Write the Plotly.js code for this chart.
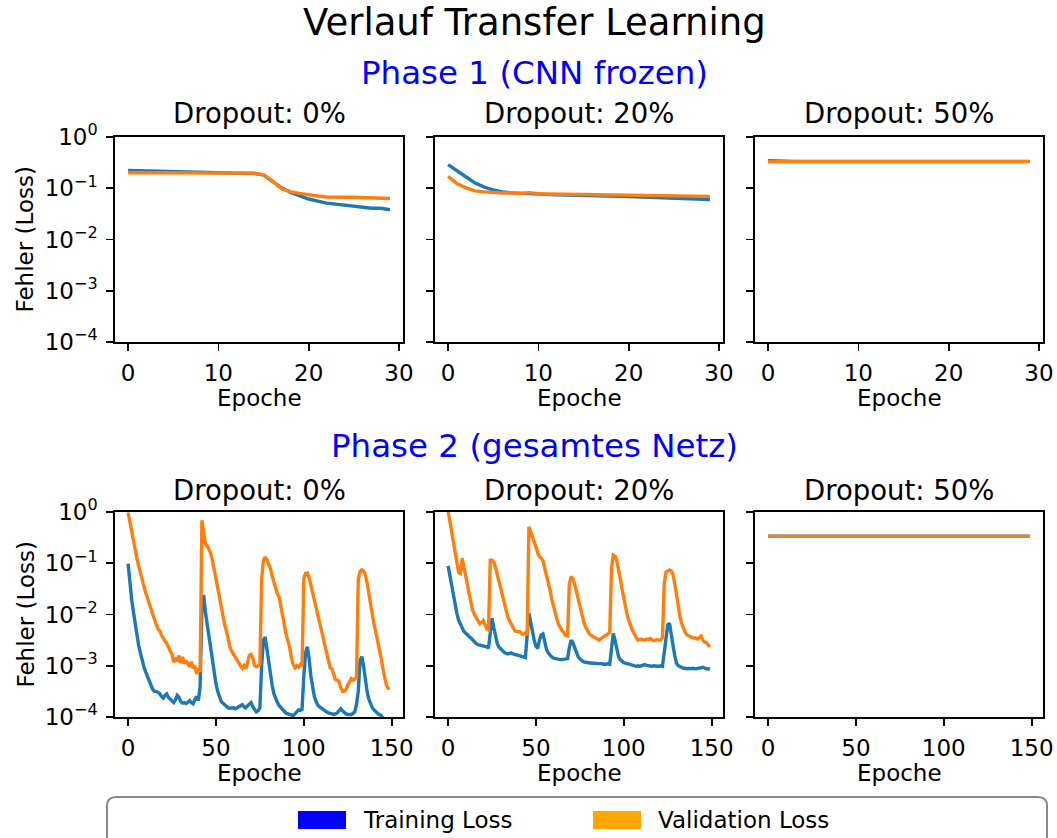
<!DOCTYPE html>
<html>
<head>
<meta charset="utf-8">
<script src="https://cdn.plot.ly/plotly-3.0.1.min.js"></script>
<style>html,body{margin:0;padding:0;background:#fff;}#chart{width:1057px;height:838px;}</style>
</head>
<body>
<div id="chart"></div>
<script>
// ---------------- DATA ----------------
const mainTitle = "Verlauf Transfer Learning";
const phaseTitles = ["Phase 1 (CNN frozen)", "Phase 2 (gesamtes Netz)"];
const dropoutLabels = ["Dropout: 0%", "Dropout: 20%", "Dropout: 50%"];
const xLabel = "Epoche";
const yLabel = "Fehler (Loss)";
const seriesNames = ["Training Loss", "Validation Loss"];
const xTicksP1 = [0, 10, 20, 30];
const xTicksP2 = [0, 50, 100, 150];
const yTickVals = [1e-4, 1e-3, 1e-2, 1e-1, 1];
const yTickText = ["10<sup>\u22124</sup>", "10<sup>\u22123</sup>", "10<sup>\u22122</sup>", "10<sup>\u22121</sup>", "10<sup>0</sup>"];

// Phase 1 (30 epochs)
const p1_d0_train = [0.222,0.219,0.216,0.214,0.213,0.211,0.209,0.207,0.204,0.202,0.200,0.199,0.197,0.195,0.194,
  0.182,0.138,0.102,0.0832,0.0708,0.0617,0.0562,0.0513,0.0490,0.0468,0.0447,0.0427,0.0407,0.0407,0.0380];
const p1_d0_val = [0.200,0.200,0.200,0.199,0.199,0.198,0.198,0.198,0.197,0.197,0.197,0.198,0.198,0.197,0.197,
  0.182,0.138,0.0977,0.0851,0.0794,0.0741,0.0708,0.0676,0.0661,0.0668,0.0668,0.0661,0.0646,0.0631,0.0631];
const p1_d20_train = [0.288,0.214,0.166,0.126,0.105,0.0933,0.0851,0.0813,0.0794,0.0776,0.0759,0.0750,0.0741,0.0735,0.0724,
  0.0718,0.0710,0.0705,0.0700,0.0695,0.0690,0.0680,0.0668,0.0660,0.0645,0.0640,0.0630,0.0625,0.0615,0.0603];
const p1_d20_val = [0.170,0.122,0.102,0.0891,0.0851,0.0822,0.0810,0.0810,0.0790,0.0822,0.0780,0.0770,0.0765,0.0760,0.0755,
  0.0750,0.0750,0.0745,0.0740,0.0755,0.0745,0.0740,0.0730,0.0725,0.0720,0.0720,0.0715,0.0710,0.0700,0.0695];
const p1_d50_train = [0.345,0.338,0.336,0.335,0.335,0.335,0.334,0.334,0.334,0.334,0.334,0.334,0.334,0.334,0.334,
  0.334,0.334,0.334,0.334,0.334,0.334,0.334,0.334,0.334,0.334,0.334,0.334,0.334,0.334,0.334];
const p1_d50_val = [0.331,0.331,0.331,0.331,0.331,0.331,0.331,0.331,0.331,0.331,0.331,0.331,0.331,0.331,0.331,
  0.331,0.331,0.331,0.331,0.331,0.331,0.331,0.331,0.331,0.331,0.331,0.331,0.331,0.331,0.331];

// Phase 2 (150 epochs)
const p2_d0_train = [
  0.098,0.0380,0.0200,0.0115,6.61e-3,3.98e-3,2.51e-3,1.78e-3,1.26e-3,9.55e-4,
  7.59e-4,6.31e-4,5.01e-4,3.98e-4,3.47e-4,3.16e-4,3.16e-4,3.02e-4,2.88e-4,2.51e-4,
  2.34e-4,2.63e-4,2.82e-4,2.40e-4,2.19e-4,2.09e-4,1.91e-4,2.19e-4,2.63e-4,2.40e-4,
  2.0e-4,1.86e-4,1.91e-4,1.82e-4,2.0e-4,2.09e-4,1.91e-4,1.82e-4,2.19e-4,2.51e-4,
  2.09e-4,3.98e-4,0.0126,0.0240,0.0112,6.31e-3,3.55e-3,2.0e-3,1.12e-3,7.08e-4,
  4.47e-4,3.16e-4,2.40e-4,2.0e-4,1.86e-4,1.74e-4,1.58e-4,1.51e-4,1.48e-4,1.48e-4,
  1.51e-4,1.45e-4,1.51e-4,1.58e-4,1.66e-4,1.74e-4,1.58e-4,1.51e-4,1.66e-4,1.82e-4,
  1.91e-4,1.58e-4,1.45e-4,1.26e-4,1.32e-4,1.51e-4,1.0e-3,3.16e-3,3.63e-3,2.0e-3,
  1.05e-3,6.31e-4,4.17e-4,2.82e-4,2.24e-4,1.91e-4,1.66e-4,1.51e-4,1.38e-4,1.26e-4,
  1.17e-4,1.15e-4,1.12e-4,1.10e-4,1.07e-4,1.15e-4,1.26e-4,1.38e-4,1.35e-4,1.41e-4,
  6.31e-4,1.78e-3,2.34e-3,1.41e-3,6.31e-4,3.80e-4,2.51e-4,2.0e-4,1.70e-4,1.58e-4,
  1.48e-4,1.38e-4,1.32e-4,1.26e-4,1.20e-4,1.17e-4,1.15e-4,1.12e-4,1.15e-4,1.20e-4,
  1.32e-4,1.45e-4,1.32e-4,1.20e-4,1.15e-4,1.12e-4,1.12e-4,1.12e-4,1.17e-4,1.26e-4,
  1.78e-4,3.16e-4,1.26e-3,1.51e-3,1.0e-3,4.79e-4,3.16e-4,2.24e-4,1.74e-4,1.51e-4,
  1.38e-4,1.26e-4,1.17e-4,1.12e-4,1.07e-4,9.55e-5,8.91e-5,8.32e-5,7.94e-5,7.59e-5];
const p2_d0_val = [
  0.977,0.631,0.417,0.288,0.191,0.126,0.0891,0.0631,0.0468,0.0355,
  0.0269,0.0209,0.0158,0.0126,0.0100,7.94e-3,6.31e-3,5.25e-3,4.79e-3,3.98e-3,
  3.31e-3,3.02e-3,2.75e-3,2.24e-3,1.91e-3,1.66e-3,1.17e-3,1.45e-3,1.20e-3,1.58e-3,
  1.12e-3,1.48e-3,1.10e-3,1.26e-3,1.07e-3,9.55e-4,1.20e-3,8.91e-4,1.0e-3,6.92e-4,
  8.91e-4,7.59e-4,0.692,0.355,0.240,0.219,0.191,0.158,0.112,0.0794,
  0.0501,0.0331,0.0209,0.0135,9.55e-3,6.31e-3,4.68e-3,3.16e-3,2.29e-3,1.91e-3,
  1.66e-3,1.48e-3,1.26e-3,1.10e-3,1.0e-3,8.91e-4,1.0e-3,8.71e-4,1.12e-3,1.58e-3,
  1.66e-3,1.41e-3,1.0e-3,9.55e-4,1.0e-3,1.05e-3,0.0501,0.112,0.132,0.117,
  0.0955,0.0794,0.0562,0.0417,0.0302,0.0251,0.0219,0.0141,8.91e-3,5.62e-3,
  3.98e-3,3.02e-3,2.24e-3,1.41e-3,1.05e-3,9.12e-4,1.0e-3,9.33e-4,1.05e-3,1.0e-3,
  0.0501,0.0631,0.0646,0.0525,0.0380,0.0282,0.0200,0.0148,0.0105,7.24e-3,
  5.25e-3,3.55e-3,2.51e-3,1.78e-3,1.20e-3,9.12e-4,8.71e-4,6.61e-4,5.37e-4,5.25e-4,
  5.01e-4,3.80e-4,3.16e-4,3.16e-4,3.39e-4,4.17e-4,5.01e-4,5.62e-4,5.25e-4,5.50e-4,
  6.03e-4,0.0479,0.0692,0.0741,0.0708,0.0603,0.0417,0.0251,0.0158,0.0105,
  6.31e-3,4.47e-3,3.16e-3,2.0e-3,1.41e-3,8.91e-4,5.62e-4,4.17e-4,3.63e-4,3.72e-4];
const p2_d20_train = [
  0.0891,0.0562,0.0380,0.0240,0.0155,0.0105,7.76e-3,6.31e-3,5.50e-3,4.68e-3,
  4.27e-3,3.98e-3,3.72e-3,3.47e-3,3.16e-3,2.82e-3,2.69e-3,2.57e-3,2.51e-3,2.45e-3,
  2.45e-3,2.40e-3,2.34e-3,2.19e-3,5.01e-3,8.51e-3,5.62e-3,3.55e-3,2.69e-3,2.29e-3,
  2.09e-3,2.0e-3,1.82e-3,1.74e-3,1.70e-3,1.74e-3,1.78e-3,1.70e-3,1.66e-3,1.66e-3,
  1.62e-3,1.58e-3,1.51e-3,1.48e-3,1.45e-3,3.98e-3,0.0105,7.08e-3,4.47e-3,3.16e-3,
  2.40e-3,2.19e-3,3.16e-3,3.98e-3,4.17e-3,2.82e-3,2.09e-3,1.78e-3,1.58e-3,1.48e-3,
  1.41e-3,1.38e-3,1.35e-3,1.35e-3,1.32e-3,1.32e-3,1.35e-3,1.35e-3,1.38e-3,2.24e-3,
  3.16e-3,2.82e-3,2.24e-3,1.78e-3,1.51e-3,1.35e-3,1.26e-3,1.20e-3,1.17e-3,1.15e-3,
  1.15e-3,1.12e-3,1.12e-3,1.12e-3,1.10e-3,1.12e-3,1.10e-3,1.10e-3,1.07e-3,1.07e-3,
  1.07e-3,1.10e-3,1.07e-3,2.51e-3,4.27e-3,3.16e-3,2.0e-3,1.51e-3,1.32e-3,1.20e-3,
  1.15e-3,1.12e-3,1.10e-3,1.07e-3,1.05e-3,1.02e-3,1.0e-3,9.77e-4,1.0e-3,9.77e-4,
  1.0e-3,1.02e-3,1.05e-3,1.02e-3,1.0e-3,9.77e-4,9.77e-4,1.0e-3,9.77e-4,9.77e-4,
  9.77e-4,1.0e-3,9.77e-4,1.91e-3,3.55e-3,6.31e-3,6.76e-3,4.47e-3,2.51e-3,1.58e-3,
  1.12e-3,1.0e-3,9.55e-4,9.12e-4,8.91e-4,8.91e-4,8.71e-4,8.91e-4,8.71e-4,8.91e-4,
  8.71e-4,8.71e-4,8.91e-4,8.91e-4,9.12e-4,9.33e-4,8.91e-4,8.71e-4,8.71e-4,8.51e-4];
const p2_d20_val = [
  1.05,0.631,0.417,0.263,0.170,0.105,0.0661,0.0631,0.126,0.0891,
  0.0562,0.0380,0.0251,0.0166,0.0120,0.0100,8.32e-3,7.59e-3,6.61e-3,6.92e-3,
  7.59e-3,6.03e-3,5.25e-3,5.01e-3,0.115,0.115,0.105,0.0832,0.0603,0.0447,
  0.0316,0.0224,0.0158,0.0112,8.91e-3,7.59e-3,6.31e-3,5.62e-3,4.79e-3,4.68e-3,
  4.68e-3,4.57e-3,4.17e-3,4.17e-3,4.37e-3,3.98e-3,0.513,0.417,0.331,0.263,
  0.209,0.158,0.135,0.126,0.112,0.0794,0.0603,0.0417,0.0302,0.0200,
  0.0141,0.0100,7.94e-3,6.31e-3,5.37e-3,4.79e-3,4.37e-3,3.89e-3,3.80e-3,0.0398,
  0.0550,0.0501,0.0398,0.0282,0.0200,0.0141,0.0100,7.59e-3,6.03e-3,5.01e-3,
  4.37e-3,3.98e-3,3.80e-3,3.63e-3,3.47e-3,3.31e-3,3.16e-3,3.39e-3,3.55e-3,3.80e-3,
  3.98e-3,4.17e-3,4.47e-3,0.0794,0.145,0.138,0.112,0.0794,0.0501,0.0316,
  0.0200,0.0132,9.55e-3,7.41e-3,5.75e-3,4.79e-3,4.17e-3,3.55e-3,3.16e-3,3.24e-3,
  3.31e-3,3.24e-3,3.16e-3,3.31e-3,3.24e-3,3.39e-3,3.16e-3,3.09e-3,3.16e-3,3.24e-3,
  3.16e-3,3.16e-3,3.55e-3,0.0398,0.0676,0.0708,0.0741,0.0708,0.0603,0.0398,
  0.0240,0.0141,8.91e-3,6.61e-3,5.25e-3,4.47e-3,3.98e-3,3.80e-3,3.63e-3,3.55e-3,
  3.47e-3,3.47e-3,3.31e-3,3.55e-3,3.80e-3,3.16e-3,2.88e-3,2.82e-3,2.51e-3,2.34e-3];
const p2_d50_train = [
  0.337,0.337,0.337,0.337,0.337,0.337,0.337,0.337,0.337,0.337,0.337,0.337,0.337,0.337,0.337,
  0.337,0.337,0.337,0.337,0.337,0.337,0.337,0.337,0.337,0.337,0.337,0.337,0.337,0.337,0.337,
  0.337,0.337,0.337,0.337,0.337,0.337,0.337,0.337,0.337,0.337,0.337,0.337,0.337,0.337,0.337,
  0.337,0.337,0.337,0.337,0.337,0.337,0.337,0.337,0.337,0.337,0.337,0.337,0.337,0.337,0.337,
  0.337,0.337,0.337,0.337,0.337,0.337,0.337,0.337,0.337,0.337,0.337,0.337,0.337,0.337,0.337,
  0.337,0.337,0.337,0.337,0.337,0.337,0.337,0.337,0.337,0.337,0.337,0.337,0.337,0.337,0.337,
  0.337,0.337,0.337,0.337,0.337,0.337,0.337,0.337,0.337,0.337,0.337,0.337,0.337,0.337,0.337,
  0.337,0.337,0.337,0.337,0.337,0.337,0.337,0.337,0.337,0.337,0.337,0.337,0.337,0.337,0.337,
  0.337,0.337,0.337,0.337,0.337,0.337,0.337,0.337,0.337,0.337,0.337,0.337,0.337,0.337,0.337,
  0.337,0.337,0.337,0.337,0.337,0.337,0.337,0.337,0.337,0.337,0.337,0.337,0.337,0.337,0.337];
const p2_d50_val = [
  0.334,0.334,0.334,0.334,0.334,0.334,0.334,0.334,0.334,0.334,0.334,0.334,0.334,0.334,0.334,
  0.334,0.334,0.334,0.334,0.334,0.334,0.334,0.334,0.334,0.334,0.334,0.334,0.334,0.334,0.334,
  0.334,0.334,0.334,0.334,0.334,0.334,0.334,0.334,0.334,0.334,0.334,0.334,0.334,0.334,0.334,
  0.334,0.334,0.334,0.334,0.334,0.334,0.334,0.334,0.334,0.334,0.334,0.334,0.334,0.334,0.334,
  0.334,0.334,0.334,0.334,0.334,0.334,0.334,0.334,0.334,0.334,0.334,0.334,0.334,0.334,0.334,
  0.334,0.334,0.334,0.334,0.334,0.334,0.334,0.334,0.334,0.334,0.334,0.334,0.334,0.334,0.334,
  0.334,0.334,0.334,0.334,0.334,0.334,0.334,0.334,0.334,0.334,0.334,0.334,0.334,0.334,0.334,
  0.334,0.334,0.334,0.334,0.334,0.334,0.334,0.334,0.334,0.334,0.334,0.334,0.334,0.334,0.334,
  0.334,0.334,0.334,0.334,0.334,0.334,0.334,0.334,0.334,0.334,0.334,0.334,0.334,0.334,0.334,
  0.334,0.334,0.334,0.334,0.334,0.334,0.334,0.334,0.334,0.334,0.334,0.334,0.334,0.334,0.334];

// ---------------- STYLE / LAYOUT ----------------
const W = 1057, H = 838;
const FONT = "DejaVu Sans";
const C_TRAIN = "#1f77b4", C_VAL = "#ff7f0e";
const px = x => x / W;
const py = y => 1 - y / H;

const colX = [[115, 403], [435, 723], [755, 1043]];
const rowY = [[137, 342], [512, 717]];

const panels = [
  [p1_d0_train, p1_d0_val], [p1_d20_train, p1_d20_val], [p1_d50_train, p1_d50_val],
  [p2_d0_train, p2_d0_val], [p2_d20_train, p2_d20_val], [p2_d50_train, p2_d50_val]
];

const traces = [];
const layout = {
  width: W, height: H,
  margin: {l: 0, r: 0, t: 0, b: 0},
  paper_bgcolor: "#fff", plot_bgcolor: "#fff",
  showlegend: false,
  font: {family: FONT, color: "#000"},
  annotations: [], shapes: []
};

panels.forEach((pair, i) => {
  const r = Math.floor(i / 3), c = i % 3;
  const n = i + 1;
  const xa = n === 1 ? "x" : "x" + n;
  const ya = n === 1 ? "y" : "y" + n;
  traces.push({type: "scatter", mode: "lines", y: pair[0], xaxis: xa, yaxis: ya,
    name: seriesNames[0], line: {color: C_TRAIN, width: 3.4}, hoverinfo: "skip"});
  traces.push({type: "scatter", mode: "lines", y: pair[1], xaxis: xa, yaxis: ya,
    name: seriesNames[1], line: {color: C_VAL, width: 3.4}, hoverinfo: "skip"});
  const common = {showline: true, linecolor: "#000", linewidth: 1.7, mirror: true,
    ticks: "outside", ticklen: 7, tickwidth: 1.7, tickcolor: "#000",
    showgrid: false, zeroline: false, fixedrange: true,
    tickfont: {family: FONT, size: 23, color: "#000"}};
  layout[n === 1 ? "xaxis" : "xaxis" + n] = Object.assign({}, common, {
    domain: [px(colX[c][0]), px(colX[c][1])], anchor: ya,
    range: r === 0 ? [-1.45, 30.45] : [-7.45, 156.45],
    tickmode: "array", tickvals: r === 0 ? xTicksP1 : xTicksP2,
    ticklabelstandoff: 3
  });
  layout[n === 1 ? "yaxis" : "yaxis" + n] = Object.assign({}, common, {
    domain: [py(rowY[r][1]), py(rowY[r][0])], anchor: xa,
    type: "log", range: [-4, 0],
    tickmode: "array", tickvals: yTickVals, ticktext: yTickText,
    showticklabels: c === 0, ticklabelstandoff: 4
  });
  // subplot title
  const cx = (colX[c][0] + colX[c][1]) / 2;
  layout.annotations.push({text: dropoutLabels[c], xref: "paper", yref: "paper",
    x: px(cx), y: py(r === 0 ? 113 : 490), xanchor: "center", yanchor: "middle",
    showarrow: false, font: {family: FONT, size: 27.5, color: "#000"}});
  // x label
  layout.annotations.push({text: xLabel, xref: "paper", yref: "paper",
    x: px(cx), y: py(r === 0 ? 398 : 773), xanchor: "center", yanchor: "middle",
    showarrow: false, font: {family: FONT, size: 23, color: "#000"}});
});

// y labels
[0, 1].forEach(r => {
  layout.annotations.push({text: yLabel, xref: "paper", yref: "paper", textangle: -90,
    x: px(25), y: py((rowY[r][0] + rowY[r][1]) / 2), xanchor: "center", yanchor: "middle",
    showarrow: false, font: {family: FONT, size: 23, color: "#000"}});
});

// titles
layout.annotations.push({text: mainTitle, xref: "paper", yref: "paper",
  x: px(534.5), y: py(23), xanchor: "center", yanchor: "middle", showarrow: false,
  font: {family: FONT, size: 37, color: "#000"}});
layout.annotations.push({text: phaseTitles[0], xref: "paper", yref: "paper",
  x: px(534), y: py(73), xanchor: "center", yanchor: "middle", showarrow: false,
  font: {family: FONT, size: 32.5, color: "#0000ff"}});
layout.annotations.push({text: phaseTitles[1], xref: "paper", yref: "paper",
  x: px(534), y: py(446), xanchor: "center", yanchor: "middle", showarrow: false,
  font: {family: FONT, size: 32.5, color: "#0000ff"}});

// legend (drawn manually as patches)
const lx0 = 107, lx1 = 1047, ly0 = 797, ly1 = 860, rad = 9;
const P = (x, y) => px(x) + "," + py(y);
layout.shapes.push({type: "path", xref: "paper", yref: "paper", layer: "above",
  path: "M" + P(lx0 + rad, ly0) + " L" + P(lx1 - rad, ly0) + " Q" + P(lx1, ly0) + " " + P(lx1, ly0 + rad) +
        " L" + P(lx1, ly1) + " L" + P(lx0, ly1) + " L" + P(lx0, ly0 + rad) + " Q" + P(lx0, ly0) + " " + P(lx0 + rad, ly0) + " Z",
  line: {color: "#888888", width: 2}, fillcolor: "rgba(255,255,255,0)"});
const legendItems = [
  {name: seriesNames[0], color: "#0000ff", x: 298},
  {name: seriesNames[1], color: "#ffa500", x: 593}
];
legendItems.forEach(it => {
  layout.shapes.push({type: "rect", xref: "paper", yref: "paper", layer: "above",
    x0: px(it.x), x1: px(it.x + 48), y0: py(829), y1: py(811),
    line: {width: 0}, fillcolor: it.color});
  layout.annotations.push({text: it.name, xref: "paper", yref: "paper",
    x: px(it.x + 63), y: py(820), xanchor: "left", yanchor: "middle", showarrow: false,
    font: {family: FONT, size: 23, color: "#000"}});
});

Plotly.newPlot("chart", traces, layout, {staticPlot: true, displayModeBar: false});
</script>
</body>
</html>
